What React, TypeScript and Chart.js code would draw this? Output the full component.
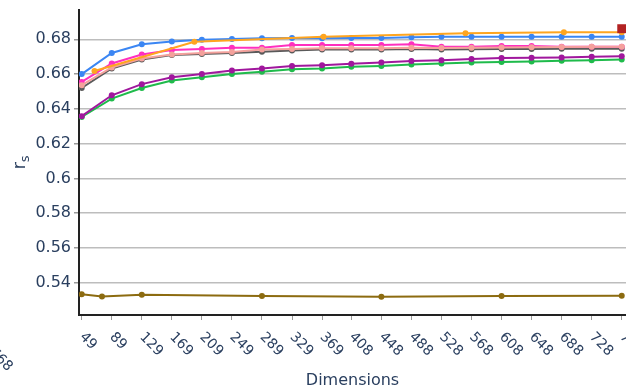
import React, { useEffect, useRef } from "react";
import { Chart, registerables } from "chart.js";

Chart.register(...registerables);

// ---- data ----
const xTicks = [49, 89, 129, 169, 209, 249, 289, 329, 369, 408, 448, 488, 528, 568, 608, 648, 688, 728, 768];
const yTicks = [0.54, 0.56, 0.58, 0.6, 0.62, 0.64, 0.66, 0.68];

const dims = [49, 89, 129, 169, 209, 249, 289, 329, 369, 408, 448, 488, 528, 568, 608, 648, 688, 728, 768];
const blueVals = [0.660, 0.6721, 0.6771, 0.6788, 0.6798, 0.6802, 0.6806, 0.6807, 0.6806, 0.6807, 0.6807, 0.6812, 0.6815, 0.6815, 0.6815, 0.6815, 0.6815, 0.6815, 0.6815];
const magentaVals = [0.6555, 0.6661, 0.6713, 0.6738, 0.6744, 0.6751, 0.6751, 0.6767, 0.6767, 0.6767, 0.6767, 0.6771, 0.6757, 0.6757, 0.6761, 0.6761, 0.6757, 0.6757, 0.6757];
const salmonVals = [0.6536, 0.6638, 0.669, 0.6713, 0.6721, 0.6727, 0.6742, 0.6744, 0.6748, 0.6748, 0.6748, 0.6751, 0.675, 0.6752, 0.6753, 0.6754, 0.6756, 0.6757, 0.6757];
const grayVals = [0.652, 0.6632, 0.6684, 0.6709, 0.6715, 0.6721, 0.6728, 0.6736, 0.6742, 0.6742, 0.6742, 0.6744, 0.6742, 0.6743, 0.6744, 0.6744, 0.6745, 0.6746, 0.6746];
const purpleVals = [0.6358, 0.6478, 0.6542, 0.6582, 0.6601, 0.6621, 0.6632, 0.6646, 0.6651, 0.6659, 0.6667, 0.6675, 0.668, 0.6686, 0.6692, 0.6694, 0.6696, 0.67, 0.6703];
const greenVals = [0.6353, 0.6459, 0.652, 0.6563, 0.6582, 0.6601, 0.6613, 0.6628, 0.6632, 0.6642, 0.6647, 0.6655, 0.6661, 0.6667, 0.667, 0.6673, 0.6676, 0.668, 0.6684];

const orangeDims = [66, 199, 371, 560, 691, 768];
const orangeVals = [0.6618, 0.6786, 0.6815, 0.6835, 0.684, 0.684];

const brownDims = [49, 76, 129, 289, 448, 608, 768];
const brownVals = [0.5333, 0.5321, 0.533, 0.5323, 0.5319, 0.5323, 0.5325];

const redDims = [768];
const redVals = [0.6861];

const xTitle = "Dimensions";
const yTitleMain = "r";
const yTitleSub = "s";
const strayLabel = "768";

const FONT = "'DejaVu Sans', sans-serif";
const TEXT = "#2a3f5f";

const pts = (xs: number[], ys: number[]) => xs.map((x, i) => ({ x, y: ys[i] }));

const lineDs = (label: string, xs: number[], ys: number[], color: string) => ({
  label,
  data: pts(xs, ys),
  borderColor: color,
  backgroundColor: color,
  borderWidth: 2,
  pointRadius: 3,
  pointBorderWidth: 0,
  pointHoverRadius: 3,
  tension: 0,
  showLine: true,
});

const labelsPlugin = {
  id: "customLabels",
  afterDraw(chart: any) {
    const { ctx, chartArea } = chart;
    const xs = chart.scales.x;
    ctx.save();
    ctx.fillStyle = TEXT;
    ctx.font = `14px ${FONT}`;
    ctx.textAlign = "left";
    ctx.textBaseline = "middle";
    for (const t of xs.ticks) {
      const px = xs.getPixelForValue(t.value);
      ctx.save();
      ctx.translate(px, chartArea.bottom + 20);
      ctx.rotate(Math.PI / 4);
      ctx.fillText(String(t.label), 0, 0);
      ctx.restore();
    }
    // stray clipped label at bottom-left
    ctx.save();
    ctx.translate(-8.7, 350.3);
    ctx.rotate(Math.PI / 4);
    ctx.fillText(strayLabel, 0, 0);
    ctx.restore();

    // x title
    ctx.font = `16px ${FONT}`;
    ctx.textAlign = "center";
    ctx.textBaseline = "alphabetic";
    ctx.fillText(xTitle, (chartArea.left + chartArea.right) / 2, 385);

    // y title with subscript
    ctx.save();
    ctx.translate(25, (chartArea.top + chartArea.bottom) / 2);
    ctx.rotate(-Math.PI / 2);
    ctx.font = `18px ${FONT}`;
    const wMain = ctx.measureText(yTitleMain).width;
    ctx.font = `13px ${FONT}`;
    const wSub = ctx.measureText(yTitleSub).width;
    const start = -(wMain + wSub) / 2;
    ctx.textAlign = "left";
    ctx.font = `18px ${FONT}`;
    ctx.fillText(yTitleMain, start, 0);
    ctx.font = `13px ${FONT}`;
    ctx.fillText(yTitleSub, start + wMain, 4);
    ctx.restore();

    ctx.restore();
  },
};

export default function App() {
  const ref = useRef<HTMLCanvasElement | null>(null);
  useEffect(() => {
    if (!ref.current) return;
    const chart = new Chart(ref.current, {
      type: "scatter",
      data: {
        datasets: [
          {
            label: "red",
            data: pts(redDims, redVals),
            backgroundColor: "#b22222",
            borderColor: "#b22222",
            pointStyle: "rect",
            pointRadius: 6.3,
            pointBorderWidth: 0,
            showLine: false,
          },
          lineDs("orange", orangeDims, orangeVals, "#ffa51f"),
          lineDs("blue", dims, blueVals, "#3b86f3"),
          lineDs("salmon", dims, salmonVals, "#f4a19c"),
          lineDs("magenta", dims, magentaVals, "#ff2fbf"),
          lineDs("gray", dims, grayVals, "#5a5a5a"),
          lineDs("purple", dims, purpleVals, "#a0179d"),
          lineDs("green", dims, greenVals, "#1fbb4b"),
          lineDs("brown", brownDims, brownVals, "#8c6b10"),
        ] as any,
      },
      options: {
        animation: false,
        responsive: false,
        devicePixelRatio: 1,
        layout: { autoPadding: false, padding: { left: 0, right: 0, top: 10, bottom: 0 } },
        plugins: { legend: { display: false }, tooltip: { enabled: false } },
        scales: {
          x: {
            type: "linear",
            min: 45.4,
            max: 773.7,
            afterBuildTicks: (s: any) => {
              s.ticks = xTicks.map((v) => ({ value: v }));
            },
            afterFit: (s: any) => {
              s.height = 76;
              s.paddingLeft = 0;
              s.paddingRight = 0;
            },
            ticks: { display: false, callback: (v: any) => String(v) },
            grid: {
              drawOnChartArea: false,
              drawTicks: true,
              tickLength: 5,
              tickColor: "#9a9a9a",
              tickWidth: 1,
            },
            border: { display: true, color: "#222", width: 2 },
          },
          y: {
            type: "linear",
            min: 0.52142,
            max: 0.69685,
            afterBuildTicks: (s: any) => {
              s.ticks = yTicks.map((v) => ({ value: v }));
            },
            afterFit: (s: any) => {
              s.width = 79;
              s.paddingTop = 0;
              s.paddingBottom = 0;
            },
            ticks: {
              color: TEXT,
              font: { family: FONT, size: 16 },
              padding: 3,
              callback: (v: any) => String(Number(Number(v).toFixed(2))),
            },
            grid: {
              color: "#bdbdbd",
              lineWidth: 1.5,
              drawTicks: true,
              tickLength: 5,
              tickColor: "#9a9a9a",
            },
            border: { display: true, color: "#222", width: 2 },
          },
        },
      } as any,
      plugins: [labelsPlugin],
    });
    return () => chart.destroy();
  }, []);
  return (
    <div style={{ position: "fixed", left: 0, top: 0, width: 626, height: 391, background: "#fff" }}>
      <canvas ref={ref} width={626} height={391} style={{ display: "block" }} />
    </div>
  );
}
